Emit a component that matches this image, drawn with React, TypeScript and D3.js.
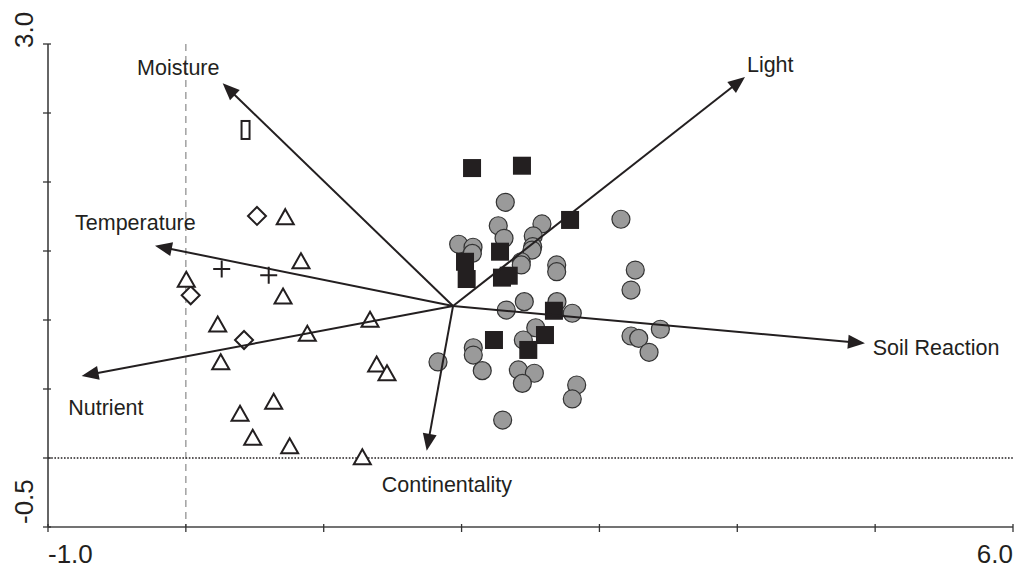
import React from 'react';
import * as d3 from 'd3';

// ordination scores (axis 1, axis 2)
const circleSites: [number, number][] = [
  [2.317, 1.853], [2.266, 1.683], [2.583, 1.696], [2.308, 1.592], [2.52, 1.609],
  [1.979, 1.549], [2.083, 1.527], [2.078, 1.483], [2.516, 1.531], [2.511, 1.507],
  [2.433, 1.422], [2.433, 1.399], [2.69, 1.399], [2.69, 1.35], [3.156, 1.73],
  [3.26, 1.362], [3.229, 1.217], [2.455, 1.133], [2.324, 1.072], [2.692, 1.133],
  [2.803, 1.049], [2.538, 0.944], [2.448, 0.855], [2.085, 0.799], [2.085, 0.746],
  [1.829, 0.696], [2.15, 0.633], [2.412, 0.638], [2.528, 0.614], [2.441, 0.541],
  [2.835, 0.529], [2.803, 0.428], [2.298, 0.275], [3.229, 0.884], [3.285, 0.867],
  [3.36, 0.766], [3.442, 0.933],
];

const squareSites: [number, number][] = [
  [2.076, 2.101], [2.438, 2.118], [2.787, 1.725], [2.279, 1.495], [2.025, 1.422],
  [2.037, 1.297], [2.293, 1.307], [2.342, 1.321], [2.67, 1.067], [2.235, 0.855],
  [2.605, 0.891], [2.484, 0.783],
];

const diamondSites: [number, number][] = [
  [0.516, 1.754], [0.035, 1.179], [0.422, 0.855],
];

const triangleSites: [number, number][] = [
  [0.721, 1.749], [0.835, 1.43], [0.003, 1.295], [0.705, 1.174], [0.231, 0.971],
  [1.336, 1.005], [0.881, 0.904], [0.253, 0.698], [1.384, 0.681], [1.459, 0.618],
  [0.637, 0.411], [0.393, 0.324], [0.485, 0.15], [0.753, 0.089], [1.28, 0.009],
];

const plusSites: [number, number][] = [
  [0.26, 1.37], [0.601, 1.324],
];

const rectSites: [number, number][] = [
  [0.433, 2.377],
];

// environmental vectors
const arrowOrigin: [number, number] = [1.938, 1.101];
const arrowNames = ['Moisture', 'Light', 'Temperature', 'Nutrient', 'Soil Reaction', 'Continentality'];
const arrowTips: [number, number][] = [
  [0.267, 2.715], [4.056, 2.761], [-0.224, 1.538], [-0.756, 0.594], [4.926, 0.831], [1.747, 0.053],
];
const arrowLabelAt: [number, number][] = [
  [-0.354, 2.775], [4.07, 2.799], [-0.804, 1.652], [-0.853, 0.312], [4.982, 0.746], [1.421, -0.244],
];

const xTicks = [-1, 0, 1, 2, 3, 4, 5, 6];
const yTicks = [-0.5, 0, 0.5, 1, 1.5, 2, 2.5, 3];

const W = 1015;
const H = 570;
const ink = '#231f20';
const font = '"Liberation Sans", Arial, Helvetica, sans-serif';

export default function App() {
  const x = d3.scaleLinear().domain([-1, 6]).range([48, 1013]);
  const y = d3.scaleLinear().domain([-0.5, 3]).range([527, 44]);

  const ox = x(arrowOrigin[0]);
  const oy = y(arrowOrigin[1]);

  const tri = (cx: number, cy: number) =>
    `M${cx},${cy - 7.5}L${cx + 8.5},${cy + 7.5}L${cx - 8.5},${cy + 7.5}Z`;
  const dia = (cx: number, cy: number) =>
    `M${cx},${cy - 9}L${cx + 9},${cy}L${cx},${cy + 9}L${cx - 9},${cy}Z`;

  return (
    <svg width={W} height={H} style={{ position: 'absolute', left: 0, top: 0, background: '#fff' }}
      fontFamily={font}>
      {/* zero reference lines */}
      <line x1={x(0)} x2={x(0)} y1={y(3)} y2={y(-0.5)} stroke="#8a8a8a" strokeWidth={1.2} strokeDasharray="7,5" />
      <line x1={x(-1)} x2={x(6)} y1={y(0)} y2={y(0)} stroke={ink} strokeWidth={1.3} strokeDasharray="1.6,1.6" />

      {/* axes */}
      <line x1={x(-1)} x2={x(-1)} y1={y(3)} y2={y(-0.5)} stroke="#333" strokeWidth={1.5} />
      <line x1={x(-1)} x2={x(6)} y1={y(-0.5)} y2={y(-0.5)} stroke="#444" strokeWidth={1.5} />
      {yTicks.map(t => (
        <line key={'yt' + t} x1={x(-1) - 5} x2={x(-1) + 3} y1={y(t)} y2={y(t)} stroke="#333" strokeWidth={1.3} />
      ))}
      {xTicks.map(t => (
        <line key={'xt' + t} x1={x(t)} x2={x(t)} y1={y(-0.5) - 3} y2={y(-0.5) + 5} stroke="#333" strokeWidth={1.3} />
      ))}
      <text x={x(-1)} y={563} fontSize={26} fill={ink}>-1.0</text>
      <text x={x(6)} y={563} fontSize={26} fill={ink} textAnchor="end">6.0</text>
      <text transform={`translate(33,${y(3) + 4}) rotate(-90)`} fontSize={26} fill={ink}>3.0</text>
      <text transform={`translate(33,${y(-0.5) - 3}) rotate(-90)`} fontSize={26} fill={ink}>-0.5</text>

      {/* sites */}
      {circleSites.map(([a, b], i) => (
        <circle key={'c' + i} cx={x(a)} cy={y(b)} r={9} fill="#9a9a9a" stroke="#333" strokeWidth={1.2} />
      ))}
      {squareSites.map(([a, b], i) => (
        <rect key={'s' + i} x={x(a) - 9} y={y(b) - 9} width={18} height={18} fill={ink} />
      ))}
      {diamondSites.map(([a, b], i) => (
        <path key={'d' + i} d={dia(x(a), y(b))} fill="#fff" stroke={ink} strokeWidth={2} />
      ))}
      {triangleSites.map(([a, b], i) => (
        <path key={'t' + i} d={tri(x(a), y(b))} fill="#fff" stroke={ink} strokeWidth={2} strokeLinejoin="miter" />
      ))}
      {plusSites.map(([a, b], i) => (
        <path key={'p' + i} d={`M${x(a) - 8.5},${y(b)}H${x(a) + 8.5}M${x(a)},${y(b) - 8.5}V${y(b) + 8.5}`}
          stroke={ink} strokeWidth={2} />
      ))}
      {rectSites.map(([a, b], i) => (
        <rect key={'r' + i} x={x(a) - 4} y={y(b) - 9} width={8} height={18} fill="#fff" stroke={ink} strokeWidth={2} />
      ))}

      {/* environmental arrows */}
      {arrowTips.map(([a, b], i) => {
        const tx = x(a);
        const ty = y(b);
        const ang = Math.atan2(ty - oy, tx - ox);
        const len = 17;
        const half = 7;
        const bx = tx - len * Math.cos(ang);
        const by = ty - len * Math.sin(ang);
        const px = -Math.sin(ang) * half;
        const py = Math.cos(ang) * half;
        return (
          <g key={'a' + i}>
            <line x1={ox} y1={oy} x2={bx + 2 * Math.cos(ang)} y2={by + 2 * Math.sin(ang)} stroke={ink} strokeWidth={2} />
            <path d={`M${tx},${ty}L${bx + px},${by + py}L${bx - px},${by - py}Z`} fill={ink} />
          </g>
        );
      })}
      {arrowNames.map((n, i) => (
        <text key={'l' + i} x={x(arrowLabelAt[i][0])} y={y(arrowLabelAt[i][1])} fontSize={21.5} fill={ink}>{n}</text>
      ))}
    </svg>
  );
}
